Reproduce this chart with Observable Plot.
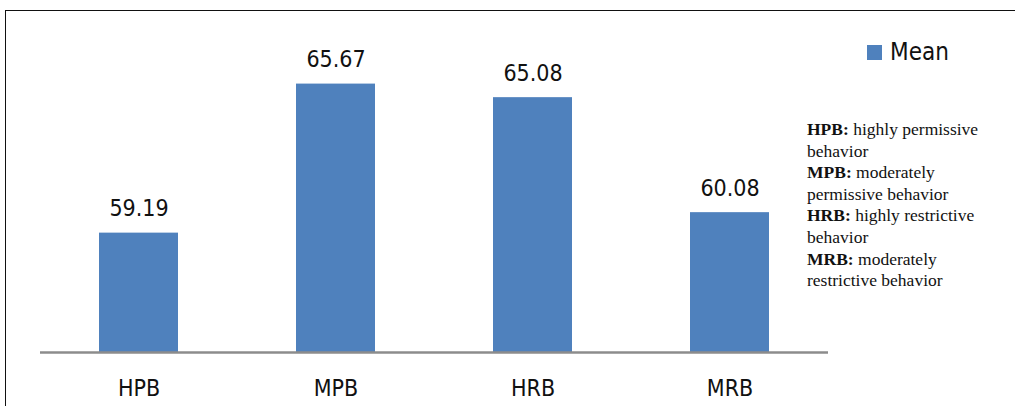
<!DOCTYPE html>
<html>
<head>
<meta charset="utf-8">
<script src="https://cdn.jsdelivr.net/npm/d3@7"></script>
<script src="https://cdn.jsdelivr.net/npm/@observablehq/plot@0.6"></script>
<style>
  html, body { margin: 0; padding: 0; background: #fff; }
  #wrap { position: relative; width: 1015px; height: 406px; overflow: hidden; }
  #frame { position: absolute; left: 5px; top: 10px; width: 1100px; height: 500px;
           border-left: 1.5px solid #111; border-top: 1.5px solid #111; box-sizing: border-box; }
  #chart { position: absolute; left: 0; top: 0; }
  #legend { position: absolute; left: 867px; top: 38px; font-family: "Liberation Sans Narrow", "DejaVu Sans Condensed", Lato, sans-serif;
            font-size: 24px; color: #111; display: flex; align-items: center; }
  #legend .sw { width: 15px; height: 15px; background: #4F81BD; margin-right: 8px; }
  #notes { position: absolute; left: 807px; top: 119px; font-family: "Liberation Serif", "DejaVu Serif", serif;
           font-size: 17.5px; line-height: 21.6px; color: #111; white-space: nowrap; }
</style>
</head>
<body>
<div id="wrap">
  <div id="frame"></div>
  <div id="chart"></div>
  <div id="legend"><div class="sw"></div><span id="legendLabel"></span></div>
  <div id="notes"></div>
</div>
<script>
const categories = ["HPB", "MPB", "HRB", "MRB"];
const means = [59.19, 65.67, 65.08, 60.08];
const yDomain = [54, 68];
const seriesName = "Mean";
const noteLines = [
  ["HPB:", "highly permissive"], ["", "behavior"],
  ["MPB:", "moderately"], ["", "permissive behavior"],
  ["HRB:", "highly restrictive"], ["", "behavior"],
  ["MRB:", "moderately"], ["", "restrictive behavior"]
];

const data = categories.map((c, i) => ({cat: c, value: means[i], base: yDomain[0]}));
const barColor = "#4F81BD";
const font = '"Liberation Sans Narrow", "DejaVu Sans Condensed", Lato, sans-serif';

const chart = Plot.plot({
  width: 1015,
  height: 406,
  marginLeft: 40,
  marginRight: 187,
  marginTop: 30,
  marginBottom: 54,
  style: {fontFamily: font, fontSize: "24px", color: "#111", background: "transparent"},
  x: {domain: categories, paddingInner: 0.6, paddingOuter: 0.3, label: null},
  y: {domain: yDomain, axis: null},
  marks: [
    Plot.barY(data, {x: "cat", y1: "base", y2: "value", fill: barColor}),
    Plot.ruleY([yDomain[0]], {stroke: "#8c8c8c", strokeWidth: 2.5}),
    Plot.text(data, {x: "cat", y: "value", text: d => d.value.toFixed(2), lineAnchor: "bottom", dy: -17, fontSize: 23, fill: "#111"}),
    Plot.axisX({tickSize: 0, tickPadding: 27, fontSize: 23, lineAnchor: "top", label: null, fill: "#111"})
  ]
});
document.getElementById("chart").appendChild(chart);
document.getElementById("legendLabel").textContent = seriesName;
document.getElementById("notes").innerHTML = noteLines.map(([b, t]) =>
  `<div>${b ? `<b>${b}</b> ` : ""}${t}</div>`).join("");
</script>
</body>
</html>
